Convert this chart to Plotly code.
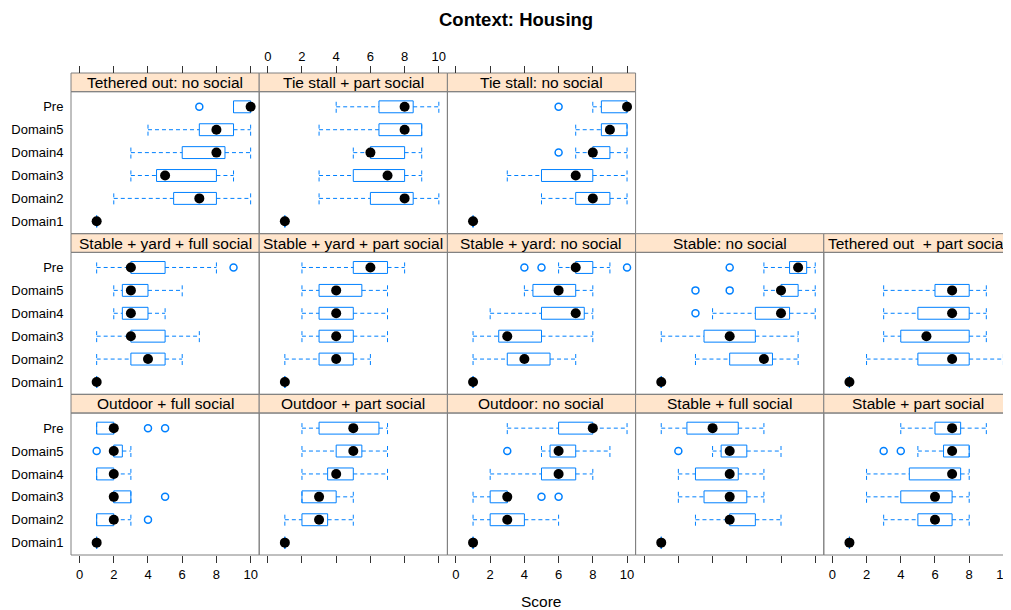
import plotly.graph_objects as go

# ---------------- data ----------------
CATEGORIES = ["Domain1", "Domain2", "Domain3", "Domain4", "Domain5", "Pre"]

PANELS = [
    "Tethered out: no social", "Tie stall + part social", "Tie stall: no social",
    "Stable + yard + full social", "Stable + yard + part social", "Stable + yard: no social",
    "Stable: no social", "Tethered out\u00a0 + part social",
    "Outdoor + full social", "Outdoor + part social", "Outdoor: no social",
    "Stable + full social", "Stable + part social",
]

# statistics per panel, in CATEGORIES order (Domain1 .. Pre)
LOWER = [
    [1, 2, 3, 3, 4, 9],
    [1, 3, 3, 5, 3, 4],
    [1, 5, 3, 7, 7, 8],
    [1, 1, 1, 2, 2, 1],
    [1, 1, 2, 2, 2, 2],
    [1, 1, 1, 2, 4, 6],
    [1, 3, 1, 4, 7, 7],
    [1, 2, 3, 3, 3, None],
    [1, 1, 2, 1, 2, 1],
    [1, 1, 2, 2, 2, 2],
    [1, 1, 1, 2, 5, 3],
    [1, 3, 2, 2, 4, 1],
    [1, 3, 2, 2, 5, 4],
]
Q1 = [
    [1, 5.5, 4.5, 6, 7, 9],
    [1, 6, 5, 6, 6.5, 6.5],
    [1, 7, 5, 8, 8.5, 8.5],
    [1, 3, 3, 2.5, 2.5, 3],
    [1, 3, 3, 3, 3, 5],
    [1, 3, 2.5, 5, 4.5, 7],
    [1, 5, 3.5, 6.5, 8, 8.5],
    [1, 5, 4, 5, 6, None],
    [1, 1, 2, 1, 2, 1],
    [1, 2, 2, 3.5, 4, 3],
    [1, 2, 2, 5, 5.5, 6],
    [1, 5, 3.5, 3, 4.5, 2.5],
    [1, 5, 4, 4.5, 6.5, 6],
]
MEDIAN = [
    [1, 7, 5, 8, 8, 10],
    [1, 8, 7, 6, 8, 8],
    [1, 8, 7, 8, 9, 10],
    [1, 4, 3, 3, 3, 3],
    [1, 4, 4, 4, 4, 6],
    [1, 4, 3, 7, 6, 7],
    [1, 7, 5, 8, 8, 9],
    [1, 7, 5.5, 7, 7, None],
    [1, 2, 2, 2, 2, 2],
    [1, 3, 3, 4, 5, 5],
    [1, 3, 3, 6, 6, 8],
    [1, 5, 5, 5, 5, 4],
    [1, 6, 6, 7, 7, 7],
]
Q3 = [
    [1, 8, 8, 8.5, 9, 10],
    [1, 8.5, 8, 8, 9, 8.5],
    [1, 9, 8, 9, 10, 10],
    [1, 5, 5, 4, 4, 5],
    [1, 5, 5, 5, 5.5, 7],
    [1, 5.5, 5, 7.5, 7, 8],
    [1, 7.5, 6.5, 8.5, 9, 9.5],
    [1, 8, 8, 8, 8, None],
    [1, 2, 3, 2, 2.5, 2],
    [1, 3.5, 4, 5, 5.5, 6.5],
    [1, 4, 3, 7, 7, 8],
    [1, 6.5, 6, 5.5, 6, 5.5],
    [1, 7, 7, 7.5, 8, 7.5],
]
UPPER = [
    [1, 10, 9, 10, 10, 10],
    [1, 10, 9, 9, 9, 10],
    [1, 10, 10, 10, 10, 10],
    [1, 6, 7, 5, 6, 8],
    [1, 6, 7, 7, 7, 8],
    [1, 7, 8, 8, 8, 9],
    [1, 9, 9, 10, 10, 10],
    [1, 10, 9, 9, 9, None],
    [1, 3, 3, 3, 3, 2],
    [1, 5, 5, 7, 7, 7],
    [1, 6, 3, 8, 9, 10],
    [1, 8, 7, 7, 8, 7],
    [1, 8, 8, 8, 8, 9],
]
OUTLIERS = [
    [[], [], [], [], [], [7]],
    [[], [], [], [], [], []],
    [[], [], [], [6], [], [6]],
    [[], [], [], [], [], [9]],
    [[], [], [], [], [], []],
    [[], [], [], [], [], [4, 5, 10]],
    [[], [], [], [3], [3, 5], [5]],
    [[], [], [], [], [], []],
    [[], [4], [5], [], [1], [4, 5]],
    [[], [], [], [], [], []],
    [[], [], [5, 6], [], [3], []],
    [[], [], [], [], [2], []],
    [[], [], [], [], [3, 4], []],
]
X_TICKS = [0, 2, 4, 6, 8, 10]

# ---------------- layout helpers ----------------
PANEL_POS = [(0, 0), (0, 1), (0, 2),
             (1, 0), (1, 1), (1, 2), (1, 3), (1, 4),
             (2, 0), (2, 1), (2, 2), (2, 3), (2, 4)]

OFF = 8                      # page body margin of the html page
W, H = 1011 - OFF, 610 - OFF  # figure size so that it ends at the window edge
L = 71 - OFF
T = 73 - OFF
BOTTOM = 555 - OFF
R = 0
B = H - BOTTOM
PW, PH = W - L - R, H - T - B
COL_W = 189
ROW_H = PH / 3
STRIP_H = 18.7
UNIT = COL_W / 11.0
HB = 0.26
Y_RANGE = [-0.54, 5.66]
BLUE = "#0080ff"
BORDER = "#808080"
FONT = "Arial, Liberation Sans, sans-serif"


def fx(px):
    return (px - L) / PW


def fy(py):
    return 1 - (py - T) / PH


fig = go.Figure()
shapes, annotations = [], []
layout = {}

for i, name in enumerate(PANELS):
    r, c = PANEL_POS[i]
    left = L + c * COL_W
    right_full = left + COL_W
    right = min(right_full, W)
    top = T + r * ROW_H
    ptop = top + STRIP_H
    bot = T + (r + 1) * ROW_H
    k = i + 1
    xs, ys = f"x{k}", f"y{k}"

    bx, by, wx, wy, mx, my, ox, oy = [], [], [], [], [], [], [], []
    for j in range(len(CATEGORIES)):
        lo, q1, md, q3, hi = LOWER[i][j], Q1[i][j], MEDIAN[i][j], Q3[i][j], UPPER[i][j]
        if md is None:
            continue
        y0, y1 = j - HB, j + HB
        bx += [q1, q3, q3, q1, q1, None]
        by += [y0, y0, y1, y1, y0, None]
        wx += [lo, q1, None, q3, hi, None, lo, lo, None, hi, hi, None]
        wy += [j, j, None, j, j, None, y0, y1, None, y0, y1, None]
        mx.append(md)
        my.append(j)
        for o in OUTLIERS[i][j]:
            ox.append(o)
            oy.append(j)

    fig.add_trace(go.Scatter(x=wx, y=wy, mode="lines", xaxis=xs, yaxis=ys,
                             line=dict(color=BLUE, width=1, dash="4px,3px"),
                             showlegend=False, hoverinfo="skip"))
    fig.add_trace(go.Scatter(x=bx, y=by, mode="lines", xaxis=xs, yaxis=ys,
                             line=dict(color=BLUE, width=1),
                             showlegend=False, hoverinfo="skip"))
    fig.add_trace(go.Scatter(x=ox, y=oy, mode="markers", xaxis=xs, yaxis=ys,
                             marker=dict(symbol="circle-open", size=7, color=BLUE,
                                         line=dict(width=1.5, color=BLUE)),
                             showlegend=False, hoverinfo="skip"))
    fig.add_trace(go.Scatter(x=mx, y=my, mode="markers", xaxis=xs, yaxis=ys,
                             marker=dict(symbol="circle", size=10, color="black"),
                             showlegend=False, hoverinfo="skip"))

    # x axis
    xa = dict(domain=[fx(left), fx(right)],
              range=[-0.5, -0.5 + (right - left) / UNIT],
              anchor=ys, showgrid=False, zeroline=False, showline=False,
              tickvals=X_TICKS, tickfont=dict(size=13, color="black", family=FONT),
              tickcolor="#333333", ticklen=7, fixedrange=True,
              ticklabeloverflow="allow")
    if r == 0:
        xa.update(side="top", ticks="outside", showticklabels=(c == 1),
                  anchor="free", position=fy(top))
    elif r == 2:
        xa.update(side="bottom", ticks="outside", showticklabels=(c % 2 == 0))
    else:
        xa.update(ticks="", showticklabels=False)
    ya = dict(domain=[fy(bot), fy(ptop)], range=Y_RANGE, anchor=xs,
              showgrid=False, zeroline=False, showline=False,
              tickvals=list(range(len(CATEGORIES))), ticktext=CATEGORIES,
              tickfont=dict(size=13, color="black", family=FONT), fixedrange=True)
    if c == 0:
        ya.update(showticklabels=True, ticks="outside", ticklen=4,
                  tickcolor="rgba(0,0,0,0)")
    else:
        ya.update(showticklabels=False, ticks="")
    layout["xaxis" if k == 1 else f"xaxis{k}"] = xa
    layout["yaxis" if k == 1 else f"yaxis{k}"] = ya

    # panel border
    shapes.append(dict(type="rect", xref="paper", yref="paper",
                       x0=fx(left), x1=fx(right_full), y0=fy(bot), y1=fy(ptop),
                       line=dict(color=BORDER, width=1), fillcolor="rgba(0,0,0,0)",
                       layer="above"))
    # strip
    shapes.append(dict(type="rect", xref="paper", yref="paper",
                       x0=fx(left), x1=fx(right_full), y0=fy(ptop), y1=fy(top),
                       line=dict(color=BORDER, width=1), fillcolor="#FFE5CC",
                       layer="below"))
    annotations.append(dict(text=name, xref="paper", yref="paper",
                            x=fx((left + right_full) / 2), y=fy((top + ptop) / 2),
                            xanchor="center", yanchor="middle", showarrow=False,
                            font=dict(size=15.5, color="black", family=FONT)))

annotations.append(dict(text="<b>Context: Housing</b>", xref="paper", yref="paper",
                        x=fx(517.5 - OFF), y=fy(19.5 - OFF), xanchor="center",
                        yanchor="middle", showarrow=False,
                        font=dict(size=18.5, color="black", family=FONT)))
annotations.append(dict(text="Score", xref="paper", yref="paper",
                        x=fx(543.5 - OFF), y=fy(601.5 - OFF), xanchor="center",
                        yanchor="middle", showarrow=False,
                        font=dict(size=15.5, color="black", family=FONT)))

fig.update_layout(width=W, height=H, margin=dict(l=L, r=R, t=T, b=B, pad=0),
                  paper_bgcolor="white", plot_bgcolor="white",
                  shapes=shapes, annotations=annotations, showlegend=False,
                  font=dict(family=FONT), **layout)

fig.write_html("out.html")
